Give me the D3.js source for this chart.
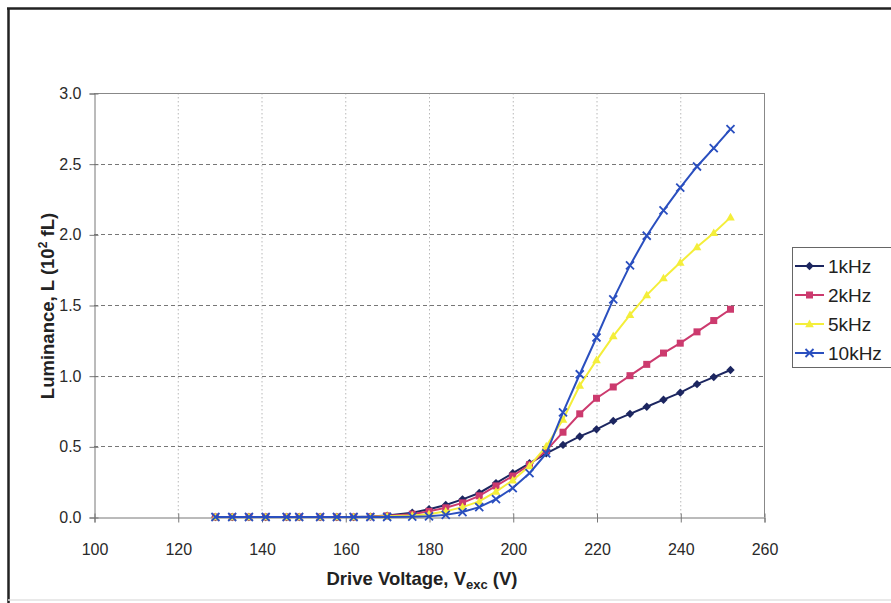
<!DOCTYPE html>
<html>
<head>
<meta charset="utf-8">
<script src="https://cdn.jsdelivr.net/npm/d3@7"></script>
<style>
  html, body { margin: 0; padding: 0; background: #fff; }
  svg { display: block; font-family: "Liberation Sans", Arial, sans-serif; }
</style>
</head>
<body>
<svg id="chart" width="891" height="603"></svg>
<script>
// Drive voltage (V) at each measurement
const voltage = [129, 133, 137, 141, 146, 149, 154, 158, 162, 166, 170, 176, 180, 184, 188,
                 192, 196, 200, 204, 208, 212, 216, 220, 224, 228, 232, 236, 240, 244, 248, 252];

// Luminance (10^2 fL) per drive frequency
const lum1k  = [0, 0, 0, 0, 0, 0, 0, 0, 0, 0.003, 0.01, 0.03, 0.055, 0.085, 0.125,
                0.17, 0.24, 0.31, 0.38, 0.45, 0.51, 0.57, 0.62, 0.68, 0.73, 0.78, 0.83, 0.88, 0.94, 0.99, 1.04];
const lum2k  = [0, 0, 0, 0, 0, 0, 0, 0, 0, 0.002, 0.008, 0.02, 0.04, 0.065, 0.10,
                0.15, 0.22, 0.29, 0.37, 0.47, 0.60, 0.73, 0.84, 0.92, 1.00, 1.08, 1.16, 1.23, 1.31, 1.39, 1.47];
const lum5k  = [0, 0, 0, 0, 0, 0, 0, 0, 0, 0.001, 0.005, 0.01, 0.02, 0.04, 0.07,
                0.11, 0.18, 0.26, 0.36, 0.50, 0.69, 0.93, 1.11, 1.28, 1.43, 1.57, 1.69, 1.80, 1.91, 2.01, 2.12];
const lum10k = [0, 0, 0, 0, 0, 0, 0, 0, 0, 0, 0, 0.002, 0.005, 0.015, 0.035,
                0.07, 0.127, 0.205, 0.31, 0.45, 0.74, 1.01, 1.27, 1.54, 1.78, 1.99, 2.17, 2.33, 2.48, 2.61, 2.745];

const seriesNames = ["1kHz", "2kHz", "5kHz", "10kHz"];
const seriesValues = [lum1k, lum2k, lum5k, lum10k];
const seriesColors = ["#1c2660", "#cc3a6e", "#f4ee3a", "#2a4fbf"];
const seriesMarkers = ["diamond", "square", "triangle", "cross"];

const xTicks = [100, 120, 140, 160, 180, 200, 220, 240, 260];
const yTicks = [0, 0.5, 1.0, 1.5, 2.0, 2.5, 3.0];

const svg = d3.select("#chart");

// outer frame
svg.append("line").attr("x1", 8.5).attr("y1", 8).attr("x2", 8.5).attr("y2", 603)
  .attr("stroke", "#222").attr("stroke-width", 2.5);
svg.append("line").attr("x1", 7).attr("y1", 8.5).attr("x2", 891).attr("y2", 8.5)
  .attr("stroke", "#222").attr("stroke-width", 2.5);
svg.append("line").attr("x1", 8).attr("y1", 600).attr("x2", 891).attr("y2", 600)
  .attr("stroke", "#e2e2e2").attr("stroke-width", 1.5);

const x = d3.scaleLinear().domain([100, 260]).range([94, 764]);
const y = d3.scaleLinear().domain([0, 3]).range([517, 93]);

// vertical gridlines (dotted)
svg.append("g").selectAll("line")
  .data(xTicks.slice(1, -1)).join("line")
  .attr("x1", d => x(d) + 0.5).attr("x2", d => x(d) + 0.5)
  .attr("y1", y(3)).attr("y2", y(0))
  .attr("stroke", "#b8b8b8").attr("stroke-width", 1).attr("stroke-dasharray", "1.5,2.5");

// horizontal gridlines (dashed)
svg.append("g").selectAll("line")
  .data(yTicks.slice(1, -1)).join("line")
  .attr("x1", x(100)).attr("x2", x(260))
  .attr("y1", d => Math.round(y(d)) + 0.5).attr("y2", d => Math.round(y(d)) + 0.5)
  .attr("stroke", "#777").attr("stroke-width", 1).attr("stroke-dasharray", "4,3");

// plot area top and right edges
svg.append("line").attr("x1", x(100)).attr("x2", x(260)).attr("y1", y(3) + 0.5).attr("y2", y(3) + 0.5)
  .attr("stroke", "#888");
svg.append("line").attr("x1", x(260) + 0.5).attr("x2", x(260) + 0.5).attr("y1", y(3)).attr("y2", y(0))
  .attr("stroke", "#888");

// axes
const xAxis = svg.append("g").attr("transform", `translate(0.5,${y(0) + 0.5})`)
  .call(d3.axisBottom(x).tickValues(xTicks).tickFormat(d3.format("d")).tickSize(5).tickPadding(21));
const yAxis = svg.append("g").attr("transform", `translate(${x(100) + 0.5},0.5)`)
  .call(d3.axisLeft(y).tickValues(yTicks).tickFormat(d3.format(".1f")).tickSize(5).tickPadding(8));

[xAxis, yAxis].forEach(g => {
  g.select(".domain").attr("stroke", "#777");
  g.selectAll(".tick line").attr("stroke", "#777");
  g.selectAll("text").attr("fill", "#2a2a2a").attr("font-size", 16)
    .attr("font-family", "'Liberation Sans', Arial, sans-serif");
});
xAxis.selectAll(".tick line").attr("y1", -4);
yAxis.selectAll(".tick line").attr("x1", 4);

// axis titles
const xt = svg.append("text").attr("x", 422).attr("y", 585)
  .attr("text-anchor", "middle").attr("font-size", 18.5).attr("font-weight", "bold").attr("fill", "#222");
xt.append("tspan").text("Drive Voltage, V");
xt.append("tspan").attr("font-size", 13).attr("dy", 4).text("exc");
xt.append("tspan").attr("dy", -4).text(" (V)");

const yt = svg.append("text").attr("transform", "translate(54,306) rotate(-90)")
  .attr("text-anchor", "middle").attr("font-size", 18.5).attr("font-weight", "bold").attr("fill", "#222");
yt.append("tspan").text("Luminance, L (10");
yt.append("tspan").attr("font-size", 12).attr("dy", -7).text("2");
yt.append("tspan").attr("dy", 7).text(" fL)");

// marker shapes
function marker(sel, kind, color) {
  if (kind === "diamond") {
    sel.append("path").attr("d", "M0,-4.2L4.2,0L0,4.2L-4.2,0Z").attr("fill", color);
  } else if (kind === "square") {
    sel.append("rect").attr("x", -3.5).attr("y", -3.5).attr("width", 7).attr("height", 7).attr("fill", color);
  } else if (kind === "triangle") {
    sel.append("path").attr("d", "M0,-4.5L4.3,3.2L-4.3,3.2Z").attr("fill", color);
  } else {
    sel.append("path").attr("d", "M-4,-4L4,4M-4,4L4,-4").attr("stroke", color)
      .attr("stroke-width", 1.8).attr("fill", "none");
  }
}

const line = d3.line().x(d => x(d[0])).y(d => y(d[1]));

seriesValues.forEach((vals, i) => {
  const pts = voltage.map((v, j) => [v, vals[j]]);
  const g = svg.append("g");
  g.append("path").datum(pts).attr("d", line)
    .attr("fill", "none").attr("stroke", seriesColors[i]).attr("stroke-width", 2);
  g.selectAll("g.pt").data(pts).join("g").attr("class", "pt")
    .attr("transform", d => `translate(${x(d[0])},${y(d[1])})`)
    .each(function () { marker(d3.select(this), seriesMarkers[i], seriesColors[i]); });
});

// legend
const lg = svg.append("g");
lg.append("rect").attr("x", 792.5).attr("y", 247.5).attr("width", 110).attr("height", 120)
  .attr("fill", "#fff").attr("stroke", "#666").attr("stroke-width", 1);
seriesNames.forEach((name, i) => {
  const cy = 266 + i * 29;
  lg.append("line").attr("x1", 795).attr("x2", 824).attr("y1", cy).attr("y2", cy)
    .attr("stroke", seriesColors[i]).attr("stroke-width", 2);
  const m = lg.append("g").attr("transform", `translate(809.5,${cy})`);
  marker(m, seriesMarkers[i], seriesColors[i]);
  lg.append("text").attr("x", 828).attr("y", cy).attr("dy", "0.36em")
    .attr("font-size", 19).attr("fill", "#222").text(name);
});
</script>
</body>
</html>
